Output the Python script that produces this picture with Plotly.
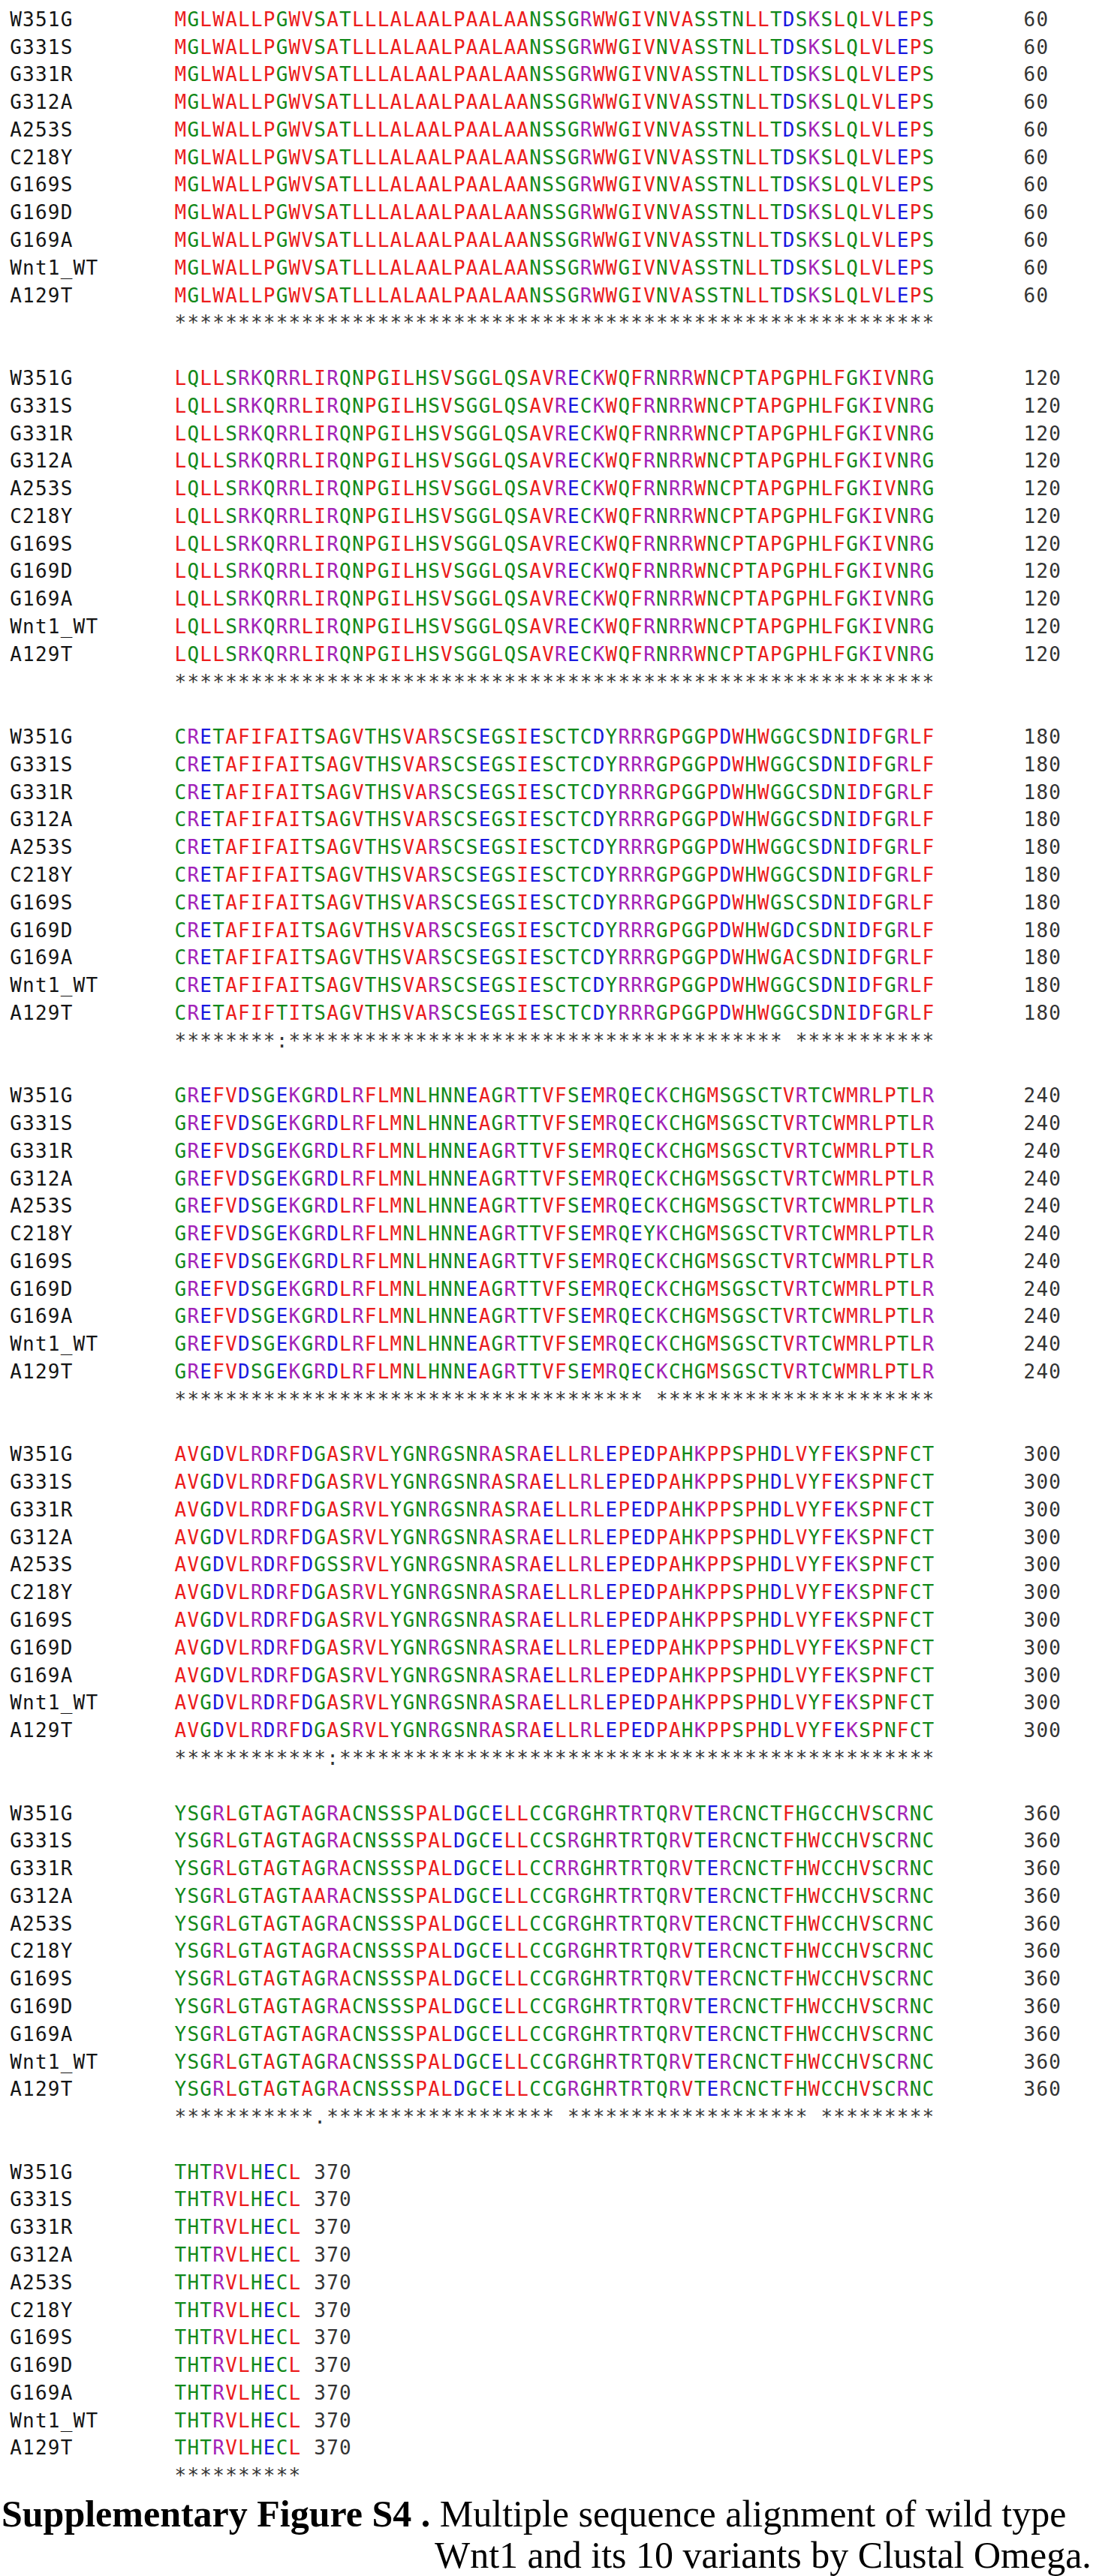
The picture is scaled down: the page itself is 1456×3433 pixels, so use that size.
import plotly.graph_objects as go

# sequence names in the order Clustal Omega printed them
names = ["W351G", "G331S", "G331R", "G312A", "A253S", "C218Y",
         "G169S", "G169D", "G169A", "Wnt1_WT", "A129T"]

# aligned residues, one list per printed block (rows follow `names`)
block1 = [
    "MGLWALLPGWVSATLLLALAALPAALAANSSGRWWGIVNVASSTNLLTDSKSLQLVLEPS",
    "MGLWALLPGWVSATLLLALAALPAALAANSSGRWWGIVNVASSTNLLTDSKSLQLVLEPS",
    "MGLWALLPGWVSATLLLALAALPAALAANSSGRWWGIVNVASSTNLLTDSKSLQLVLEPS",
    "MGLWALLPGWVSATLLLALAALPAALAANSSGRWWGIVNVASSTNLLTDSKSLQLVLEPS",
    "MGLWALLPGWVSATLLLALAALPAALAANSSGRWWGIVNVASSTNLLTDSKSLQLVLEPS",
    "MGLWALLPGWVSATLLLALAALPAALAANSSGRWWGIVNVASSTNLLTDSKSLQLVLEPS",
    "MGLWALLPGWVSATLLLALAALPAALAANSSGRWWGIVNVASSTNLLTDSKSLQLVLEPS",
    "MGLWALLPGWVSATLLLALAALPAALAANSSGRWWGIVNVASSTNLLTDSKSLQLVLEPS",
    "MGLWALLPGWVSATLLLALAALPAALAANSSGRWWGIVNVASSTNLLTDSKSLQLVLEPS",
    "MGLWALLPGWVSATLLLALAALPAALAANSSGRWWGIVNVASSTNLLTDSKSLQLVLEPS",
    "MGLWALLPGWVSATLLLALAALPAALAANSSGRWWGIVNVASSTNLLTDSKSLQLVLEPS",
]
block2 = [
    "LQLLSRKQRRLIRQNPGILHSVSGGLQSAVRECKWQFRNRRWNCPTAPGPHLFGKIVNRG",
    "LQLLSRKQRRLIRQNPGILHSVSGGLQSAVRECKWQFRNRRWNCPTAPGPHLFGKIVNRG",
    "LQLLSRKQRRLIRQNPGILHSVSGGLQSAVRECKWQFRNRRWNCPTAPGPHLFGKIVNRG",
    "LQLLSRKQRRLIRQNPGILHSVSGGLQSAVRECKWQFRNRRWNCPTAPGPHLFGKIVNRG",
    "LQLLSRKQRRLIRQNPGILHSVSGGLQSAVRECKWQFRNRRWNCPTAPGPHLFGKIVNRG",
    "LQLLSRKQRRLIRQNPGILHSVSGGLQSAVRECKWQFRNRRWNCPTAPGPHLFGKIVNRG",
    "LQLLSRKQRRLIRQNPGILHSVSGGLQSAVRECKWQFRNRRWNCPTAPGPHLFGKIVNRG",
    "LQLLSRKQRRLIRQNPGILHSVSGGLQSAVRECKWQFRNRRWNCPTAPGPHLFGKIVNRG",
    "LQLLSRKQRRLIRQNPGILHSVSGGLQSAVRECKWQFRNRRWNCPTAPGPHLFGKIVNRG",
    "LQLLSRKQRRLIRQNPGILHSVSGGLQSAVRECKWQFRNRRWNCPTAPGPHLFGKIVNRG",
    "LQLLSRKQRRLIRQNPGILHSVSGGLQSAVRECKWQFRNRRWNCPTAPGPHLFGKIVNRG",
]
block3 = [
    "CRETAFIFAITSAGVTHSVARSCSEGSIESCTCDYRRRGPGGPDWHWGGCSDNIDFGRLF",
    "CRETAFIFAITSAGVTHSVARSCSEGSIESCTCDYRRRGPGGPDWHWGGCSDNIDFGRLF",
    "CRETAFIFAITSAGVTHSVARSCSEGSIESCTCDYRRRGPGGPDWHWGGCSDNIDFGRLF",
    "CRETAFIFAITSAGVTHSVARSCSEGSIESCTCDYRRRGPGGPDWHWGGCSDNIDFGRLF",
    "CRETAFIFAITSAGVTHSVARSCSEGSIESCTCDYRRRGPGGPDWHWGGCSDNIDFGRLF",
    "CRETAFIFAITSAGVTHSVARSCSEGSIESCTCDYRRRGPGGPDWHWGGCSDNIDFGRLF",
    "CRETAFIFAITSAGVTHSVARSCSEGSIESCTCDYRRRGPGGPDWHWGSCSDNIDFGRLF",
    "CRETAFIFAITSAGVTHSVARSCSEGSIESCTCDYRRRGPGGPDWHWGDCSDNIDFGRLF",
    "CRETAFIFAITSAGVTHSVARSCSEGSIESCTCDYRRRGPGGPDWHWGACSDNIDFGRLF",
    "CRETAFIFAITSAGVTHSVARSCSEGSIESCTCDYRRRGPGGPDWHWGGCSDNIDFGRLF",
    "CRETAFIFTITSAGVTHSVARSCSEGSIESCTCDYRRRGPGGPDWHWGGCSDNIDFGRLF",
]
block4 = [
    "GREFVDSGEKGRDLRFLMNLHNNEAGRTTVFSEMRQECKCHGMSGSCTVRTCWMRLPTLR",
    "GREFVDSGEKGRDLRFLMNLHNNEAGRTTVFSEMRQECKCHGMSGSCTVRTCWMRLPTLR",
    "GREFVDSGEKGRDLRFLMNLHNNEAGRTTVFSEMRQECKCHGMSGSCTVRTCWMRLPTLR",
    "GREFVDSGEKGRDLRFLMNLHNNEAGRTTVFSEMRQECKCHGMSGSCTVRTCWMRLPTLR",
    "GREFVDSGEKGRDLRFLMNLHNNEAGRTTVFSEMRQECKCHGMSGSCTVRTCWMRLPTLR",
    "GREFVDSGEKGRDLRFLMNLHNNEAGRTTVFSEMRQEYKCHGMSGSCTVRTCWMRLPTLR",
    "GREFVDSGEKGRDLRFLMNLHNNEAGRTTVFSEMRQECKCHGMSGSCTVRTCWMRLPTLR",
    "GREFVDSGEKGRDLRFLMNLHNNEAGRTTVFSEMRQECKCHGMSGSCTVRTCWMRLPTLR",
    "GREFVDSGEKGRDLRFLMNLHNNEAGRTTVFSEMRQECKCHGMSGSCTVRTCWMRLPTLR",
    "GREFVDSGEKGRDLRFLMNLHNNEAGRTTVFSEMRQECKCHGMSGSCTVRTCWMRLPTLR",
    "GREFVDSGEKGRDLRFLMNLHNNEAGRTTVFSEMRQECKCHGMSGSCTVRTCWMRLPTLR",
]
block5 = [
    "AVGDVLRDRFDGASRVLYGNRGSNRASRAELLRLEPEDPAHKPPSPHDLVYFEKSPNFCT",
    "AVGDVLRDRFDGASRVLYGNRGSNRASRAELLRLEPEDPAHKPPSPHDLVYFEKSPNFCT",
    "AVGDVLRDRFDGASRVLYGNRGSNRASRAELLRLEPEDPAHKPPSPHDLVYFEKSPNFCT",
    "AVGDVLRDRFDGASRVLYGNRGSNRASRAELLRLEPEDPAHKPPSPHDLVYFEKSPNFCT",
    "AVGDVLRDRFDGSSRVLYGNRGSNRASRAELLRLEPEDPAHKPPSPHDLVYFEKSPNFCT",
    "AVGDVLRDRFDGASRVLYGNRGSNRASRAELLRLEPEDPAHKPPSPHDLVYFEKSPNFCT",
    "AVGDVLRDRFDGASRVLYGNRGSNRASRAELLRLEPEDPAHKPPSPHDLVYFEKSPNFCT",
    "AVGDVLRDRFDGASRVLYGNRGSNRASRAELLRLEPEDPAHKPPSPHDLVYFEKSPNFCT",
    "AVGDVLRDRFDGASRVLYGNRGSNRASRAELLRLEPEDPAHKPPSPHDLVYFEKSPNFCT",
    "AVGDVLRDRFDGASRVLYGNRGSNRASRAELLRLEPEDPAHKPPSPHDLVYFEKSPNFCT",
    "AVGDVLRDRFDGASRVLYGNRGSNRASRAELLRLEPEDPAHKPPSPHDLVYFEKSPNFCT",
]
block6 = [
    "YSGRLGTAGTAGRACNSSSPALDGCELLCCGRGHRTRTQRVTERCNCTFHGCCHVSCRNC",
    "YSGRLGTAGTAGRACNSSSPALDGCELLCCSRGHRTRTQRVTERCNCTFHWCCHVSCRNC",
    "YSGRLGTAGTAGRACNSSSPALDGCELLCCRRGHRTRTQRVTERCNCTFHWCCHVSCRNC",
    "YSGRLGTAGTAARACNSSSPALDGCELLCCGRGHRTRTQRVTERCNCTFHWCCHVSCRNC",
    "YSGRLGTAGTAGRACNSSSPALDGCELLCCGRGHRTRTQRVTERCNCTFHWCCHVSCRNC",
    "YSGRLGTAGTAGRACNSSSPALDGCELLCCGRGHRTRTQRVTERCNCTFHWCCHVSCRNC",
    "YSGRLGTAGTAGRACNSSSPALDGCELLCCGRGHRTRTQRVTERCNCTFHWCCHVSCRNC",
    "YSGRLGTAGTAGRACNSSSPALDGCELLCCGRGHRTRTQRVTERCNCTFHWCCHVSCRNC",
    "YSGRLGTAGTAGRACNSSSPALDGCELLCCGRGHRTRTQRVTERCNCTFHWCCHVSCRNC",
    "YSGRLGTAGTAGRACNSSSPALDGCELLCCGRGHRTRTQRVTERCNCTFHWCCHVSCRNC",
    "YSGRLGTAGTAGRACNSSSPALDGCELLCCGRGHRTRTQRVTERCNCTFHWCCHVSCRNC",
]
block7 = [
    "THTRVLHECL", "THTRVLHECL", "THTRVLHECL", "THTRVLHECL",
    "THTRVLHECL", "THTRVLHECL", "THTRVLHECL", "THTRVLHECL",
    "THTRVLHECL", "THTRVLHECL", "THTRVLHECL",
]
blocks = [block1, block2, block3, block4, block5, block6, block7]

# residue count printed at the end of each block
block_ends = [60, 120, 180, 240, 300, 360, 370]

# conservation line under each block (written in chunks of ten columns)
consensus = [
    "**********" "**********" "**********" "**********" "**********" "**********",
    "**********" "**********" "**********" "**********" "**********" "**********",
    "********:*" "**********" "**********" "**********" "******** *" "**********",
    "**********" "**********" "**********" "******* **" "**********" "**********",
    "**********" "**:*******" "**********" "**********" "**********" "**********",
    "**********" "*.********" "**********" " *********" "**********" " *********",
    "**********",
]

# Clustal residue colouring
RED, BLUE, MAGENTA, GREEN = "#ec1c1c", "#1818e0", "#a323b8", "#12891a"
groups = {"AVFPMILW": RED, "DE": BLUE, "RK": MAGENTA, "STYHCNGQ": GREEN}
aa_color = {aa: c for letters, c in groups.items() for aa in letters}

LINES_PER_BLOCK = 13   # 11 rows + consensus + blank line
NAME_COL = -13         # names start 13 columns left of the alignment
MONO = "DejaVu Sans Mono"
FSIZE = 26

res_x, res_y, res_t, res_c = [], [], [], []
lab_x, lab_y, lab_t = [], [], []
gry_x, gry_y, gry_t = [], [], []

for b, rows in enumerate(blocks):
    top = b * LINES_PER_BLOCK
    for r, (name, seq) in enumerate(zip(names, rows)):
        line = top + r
        for i, ch in enumerate(name):
            lab_x.append(NAME_COL + i + 0.5)
            lab_y.append(line)
            lab_t.append(ch)
        for i, ch in enumerate(seq):
            res_x.append(i + 0.5)
            res_y.append(line)
            res_t.append(ch)
            res_c.append(aa_color.get(ch, "#888888"))
        num_col = 67 if len(seq) == 60 else len(seq) + 1
        for i, ch in enumerate(str(block_ends[b])):
            gry_x.append(num_col + i + 0.5)
            gry_y.append(line)
            gry_t.append(ch)
    for i, ch in enumerate(consensus[b]):
        if ch != " ":
            gry_x.append(i + 0.5)
            gry_y.append(top + len(names))
            gry_t.append(ch)

fig = go.Figure()
fig.add_trace(go.Scatter(x=res_x, y=res_y, text=res_t, mode="text",
                         textposition="middle center",
                         textfont=dict(family=MONO, size=FSIZE, color=res_c),
                         hoverinfo="skip"))
fig.add_trace(go.Scatter(x=lab_x, y=lab_y, text=lab_t, mode="text",
                         textposition="middle center",
                         textfont=dict(family=MONO, size=FSIZE, color="#141414"),
                         hoverinfo="skip"))
fig.add_trace(go.Scatter(x=gry_x, y=gry_y, text=gry_t, mode="text",
                         textposition="middle center",
                         textfont=dict(family=MONO, size=FSIZE, color="#333333"),
                         hoverinfo="skip"))

W, H = 1456, 3433
X0, PITCH = 232.0, 16.88     # left edge of first residue, column width (px)
Y0, LINE = 28.3, 36.78       # centre of first line, line height (px)

fig.update_layout(
    width=W, height=H,
    margin=dict(l=0, r=0, t=0, b=0),
    paper_bgcolor="white", plot_bgcolor="white",
    showlegend=False,
    xaxis=dict(range=[-X0 / PITCH, (W - X0) / PITCH], visible=False, fixedrange=True),
    yaxis=dict(range=[(H - Y0) / LINE, -Y0 / LINE], visible=False, fixedrange=True),
)

caption_font = dict(family="Liberation Serif, Times New Roman, serif", size=50, color="black")
fig.add_annotation(text="<b>Supplementary Figure S4 .</b> Multiple sequence alignment of wild type",
                   xref="paper", yref="paper", x=0, y=1 - 3350 / H,
                   xanchor="left", yanchor="middle", showarrow=False,
                   font=caption_font)
fig.add_annotation(text="Wnt1 and its 10 variants by Clustal Omega.",
                   xref="paper", yref="paper", x=1, y=1 - 3405 / H,
                   xanchor="right", yanchor="middle", showarrow=False,
                   font=caption_font)

fig.write_html("out.html", config={"displayModeBar": False},
               post_script="document.body.style.margin='0';")
